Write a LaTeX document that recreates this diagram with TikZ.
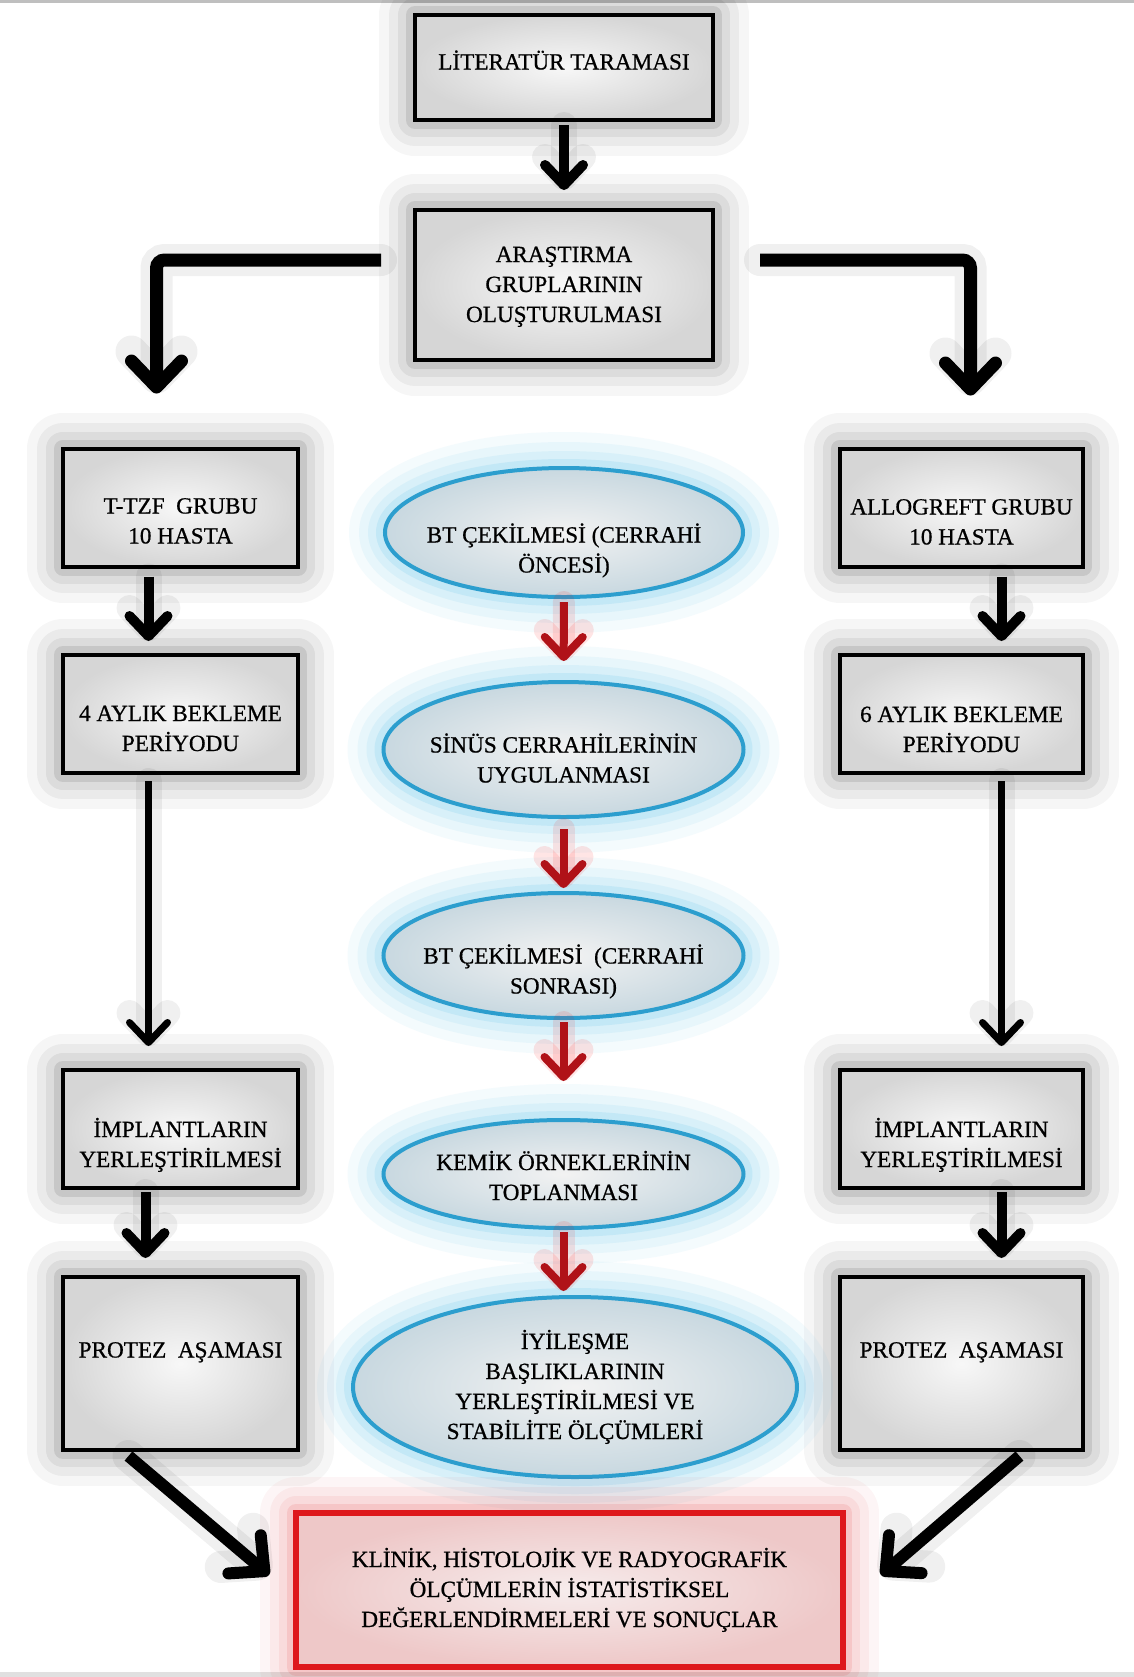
\documentclass[tikz,border=0pt]{standalone}
\usepackage{fontspec}
\setmainfont{Liberation Serif}[FakeBold=0.7]
\usetikzlibrary{positioning,arrows.meta,shapes.geometric}
\definecolor{ovalblue}{RGB}{44,158,206}
\definecolor{ovalglow}{RGB}{100,195,235}
\definecolor{boxred}{RGB}{222,24,28}
\definecolor{arrred}{RGB}{176,18,24}
% text block moved up (+) or down (-) inside its node
\newcommand{\movetxt}[2]{\raisebox{#1}[0pt][0pt]{\begin{tabular}{@{}c@{}}#2\end{tabular}}}

\begin{document}
\begin{tikzpicture}[x=0.5pt, y=-0.5pt, font=\fontsize{11.6}{15}\selectfont,
 glow/.style 2 args={preaction={draw=#1, draw opacity=0.03*#2, line width=36pt, line join=round},
   preaction={draw=#1, draw opacity=0.04*#2, line width=26pt, line join=round},
   preaction={draw=#1, draw opacity=0.05*#2, line width=17pt, line join=round},
   preaction={draw=#1, draw opacity=0.08*#2, line width=9pt, line join=round}},
 box/.style={rectangle, draw=black, line width=2pt, inner color=black!3, outer color=black!16, align=center, minimum width=117.5pt, minimum height=59pt, inner sep=0pt, glow={black}{1.2}},
 oval/.style={ellipse, draw=ovalblue, line width=2pt, inner color=black!5, outer color={rgb,255:red,200;green,216;blue,224}, align=center, inner xsep=-14pt, inner ysep=0pt, minimum width=179pt, glow={ovalglow}{2.2}},
 endbox/.style={rectangle, draw=boxred, line width=3pt, inner color={rgb,255:red,246;green,236;blue,236}, outer color={rgb,255:red,238;green,200;blue,200}, align=center, minimum width=273.5pt, minimum height=77pt, glow={boxred}{1.3}},
 arr/.style={-{Straight Barb[length=10pt, width=19pt, round]}, line width=5pt, preaction={draw=black, draw opacity=0.06, line width=13pt, line cap=round}},
 longarr/.style={arr, line width=3.5pt},
 bigarr/.style={-{Straight Barb[length=13pt, width=25pt, round]}, line width=6.5pt, rounded corners=4pt, preaction={draw=black, draw opacity=0.06, line width=16pt, line cap=round}},
 redarr/.style={-{Straight Barb[length=10pt, width=19pt, round]}, draw=arrred, line width=4pt, preaction={draw=red, draw opacity=0.10, line width=11pt, line cap=round}}]

\useasboundingbox (0,0) rectangle (1134,1677);
\fill[white] (0,0) rectangle (1134,1677);
\draw[black!25, line width=1.5pt] (0,1.5) -- (1134,1.5);
\fill[black!12] (0,1672) rectangle (1134,1677);

% top
\node[box, minimum width=149pt, minimum height=52.5pt] (lit) at (564,67.5) {\movetxt{-1pt}{LİTERATÜR TARAMASI}};
\node[box, minimum width=149pt, minimum height=75pt] (aras) at (564,285) {\movetxt{-3.5pt}{ARAŞTIRMA\\GRUPLARININ\\OLUŞTURULMASI}};

% left column
\node[box] (ttzf) at (180.5,507.5) {\movetxt{-10.5pt}{T-TZF\ \ GRUBU\\10 HASTA}};
\node[box] (bek4) at (180.5,714) {\movetxt{-11pt}{4 AYLIK BEKLEME\\PERİYODU}};
\node[box] (imp1) at (180.5,1129) {\movetxt{-11.5pt}{İMPLANTLARIN\\YERLEŞTİRİLMESİ}};
\node[box, minimum height=86.5pt] (prot1) at (180.5,1363.5) {\movetxt{3pt}{PROTEZ\ \ AŞAMASI}};

% right column
\node[box, minimum width=121.5pt] (allo) at (961.5,507.5) {\movetxt{-11pt}{ALLOGREFT GRUBU\\10 HASTA}};
\node[box, minimum width=121.5pt] (bek6) at (961.5,714) {\movetxt{-11.5pt}{6 AYLIK BEKLEME\\PERİYODU}};
\node[box, minimum width=121.5pt] (imp2) at (961.5,1129) {\movetxt{-11.5pt}{İMPLANTLARIN\\YERLEŞTİRİLMESİ}};
\node[box, minimum width=121.5pt, minimum height=86.5pt] (prot2) at (961.5,1363.5) {\movetxt{3pt}{PROTEZ\ \ AŞAMASI}};

% middle column
\node[oval, minimum height=64.5pt] (bt1) at (564,532.5) {\movetxt{-12.5pt}{BT ÇEKİLMESİ (CERRAHİ\\ÖNCESİ)}};
\node[oval, minimum width=180pt, minimum height=67.5pt] (sinus) at (563.5,749.5) {\movetxt{-9pt}{SİNÜS CERRAHİLERİNİN\\UYGULANMASI}};
\node[oval, minimum width=180pt, minimum height=62.5pt] (bt2) at (563.5,955.5) {\movetxt{-11.5pt}{BT ÇEKİLMESİ\ \ (CERRAHİ\\SONRASI)}};
\node[oval, minimum width=180pt, minimum height=54pt] (kemik) at (563.5,1174) {\movetxt{-5.5pt}{KEMİK ÖRNEKLERİNİN\\TOPLANMASI}};
\node[oval, minimum width=222pt, minimum height=90pt] (iyi) at (575,1387) {\movetxt{-3.5pt}{İYİLEŞME\\BAŞLIKLARININ\\YERLEŞTİRİLMESİ VE\\STABİLİTE ÖLÇÜMLERİ}};

\node[endbox] (sonuc) at (569.5,1590) {\movetxt{-3.5pt}{KLİNİK, HİSTOLOJİK VE RADYOGRAFİK\\ÖLÇÜMLERİN İSTATİSTİKSEL\\DEĞERLENDİRMELERİ VE SONUÇLAR}};

% arrows
\draw[arr, shorten <=1.5pt, shorten >=9pt] (lit) -- (aras);
\draw[bigarr] ([shift={(-16pt,12.5pt)}]aras.west) -| ([shift={(-12pt,26.5pt)}]ttzf.north);
\draw[bigarr] ([shift={(22.5pt,12.5pt)}]aras.east) -| ([shift={(4.5pt,25.5pt)}]allo.north);

\draw[arr, shorten <=4pt, shorten >=6pt] ([xshift=-16pt]ttzf.south) -- ([xshift=-16pt]bek4.north);
\draw[longarr, shorten <=3pt, shorten >=11pt] ([xshift=-16pt]bek4.south) -- ([xshift=-16pt]imp1.north);
\draw[arr, shorten <=1pt, shorten >=8.5pt] ([xshift=-17.5pt]imp1.south) -- ([xshift=-17.5pt]prot1.north);

\draw[arr, shorten <=4pt, shorten >=6pt] ([xshift=20pt]allo.south) -- ([xshift=20pt]bek6.north);
\draw[longarr, shorten <=3pt, shorten >=11pt] ([xshift=20pt]bek6.south) -- ([xshift=20pt]imp2.north);
\draw[arr, shorten <=1pt, shorten >=8.5pt] ([xshift=20pt]imp2.south) -- ([xshift=20pt]prot2.north);

\draw[redarr, shorten <=1.5pt, shorten >=9.5pt] (bt1) -- (sinus);
\draw[redarr, shorten <=5pt, shorten >=1.5pt] (sinus) -- (bt2);
\draw[redarr, shorten <=1pt, shorten >=18.5pt] (bt2) -- (kemik);
\draw[redarr, shorten <=1pt, shorten >=2pt] (kemik.south) -- (kemik.south |- iyi.north);

\draw[bigarr, line width=6pt] ([shift={(-26pt,-2pt)}]prot1.south) -- ([shift={(-12pt,7.5pt)}]sonuc.west);
\draw[bigarr, line width=6pt] ([shift={(29pt,-2pt)}]prot2.south) -- ([shift={(17.5pt,7.5pt)}]sonuc.east);
\end{tikzpicture}
\end{document}
